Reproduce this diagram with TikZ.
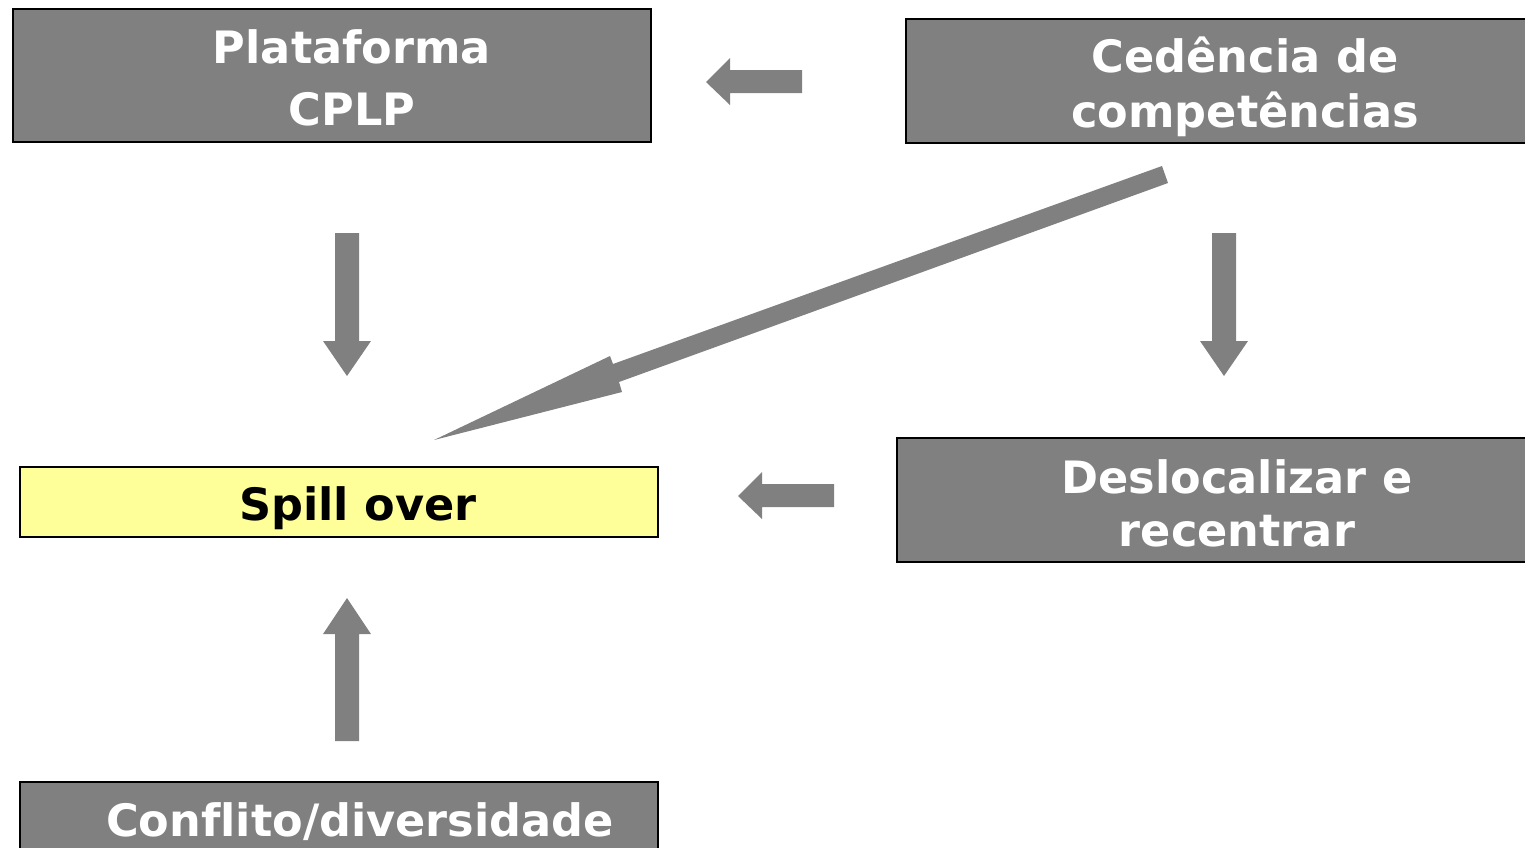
\documentclass[tikz,border=0pt]{standalone}
\usepackage{fontspec}
\setmainfont[Ligatures=NoCommon]{DejaVu Sans}
\definecolor{boxgray}{HTML}{808080}
\definecolor{spill}{HTML}{FFFF99}
\begin{document}
\begin{tikzpicture}[x=0.5pt,y=-0.5pt,
  box/.style={draw=black,line width=1.3pt,fill=boxgray,inner sep=0pt},
  ybox/.style={draw=black,line width=1.3pt,fill=spill,inner sep=0pt},
  wtxt/.style={text=white,font=\bfseries\fontsize{22.3}{28}\selectfont,align=center,inner sep=0pt},
  btxt/.style={text=black,font=\bfseries\fontsize{22.3}{28}\selectfont,align=center,inner sep=0pt},
  arr/.style={fill=boxgray,draw=none}]
\useasboundingbox (0,0) rectangle (1525,847);
\clip (0,0) rectangle (1525,847);
% boxes
\node[box,minimum width=319pt,minimum height=66.5pt] (cplp) at (332,75.5) {};
\node[box,minimum width=320pt,minimum height=62pt] (ced) at (1226,81) {};
\node[ybox,minimum width=319pt,minimum height=35pt] (spill) at (339,502) {};
\node[box,minimum width=324pt,minimum height=62pt] (desl) at (1221,500) {};
\node[box,minimum width=319pt,minimum height=50pt] (conf) at (339,832) {};
% texts
\node[wtxt,font=\bfseries\fontsize{22.3}{31}\selectfont] (tcplp) at (352,77.5) {Plataforma\\CPLP};
\node[wtxt,font=\bfseries\fontsize{22.3}{27.5}\selectfont] (tced) at (1245,87) {Cedência de\\competências};
\node[btxt,anchor=base] (tspill) at (358,520) {Spill over};
\node[wtxt,font=\bfseries\fontsize{22.3}{26.5}\selectfont] (tdesl) at (1237,503) {Deslocalizar e\\recentrar};
\node[wtxt,anchor=base] (tconf) at (360,836) {Conflito/diversidade};
% block arrows
\fill[arr] (706,82) -- (730,58) -- (730,70) -- (802,70) -- (802,93) -- (730,93) -- (730,105) -- cycle;
\fill[arr] (738,496) -- (762,472) -- (762,484) -- (834,484) -- (834,507) -- (762,507) -- (762,519) -- cycle;
\fill[arr] (335,233) -- (359,233) -- (359,341) -- (371,341) -- (347,376) -- (323,341) -- (335,341) -- cycle;
\fill[arr] (1212,233) -- (1236,233) -- (1236,341) -- (1248,341) -- (1224,376) -- (1200,341) -- (1212,341) -- cycle;
\fill[arr] (335,741) -- (359,741) -- (359,634) -- (371,634) -- (347,598) -- (323,634) -- (335,634) -- cycle;
\fill[arr] (1162,166) -- (1168,183) -- (619,382) -- (622,392) -- (434,440) -- (610,356) -- (613,364) -- cycle;
\end{tikzpicture}
\end{document}
